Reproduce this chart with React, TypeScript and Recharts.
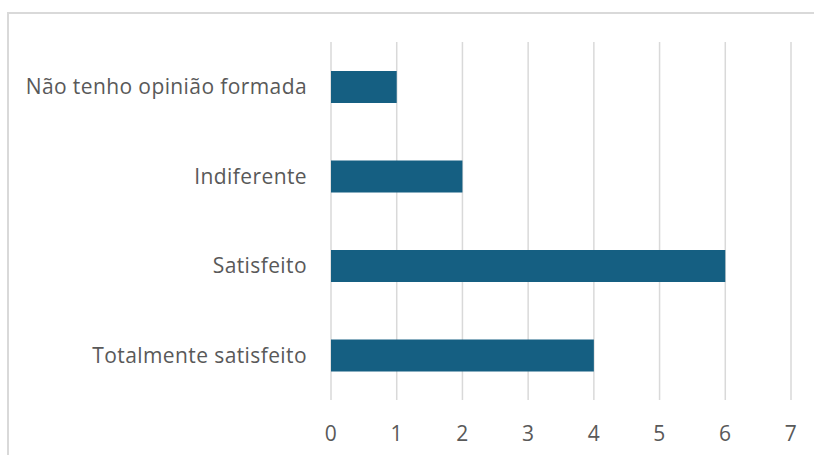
import React from 'react';
import { BarChart, Bar, XAxis, YAxis, CartesianGrid } from 'recharts';

const categories = [
  'Não tenho opinião formada',
  'Indiferente',
  'Satisfeito',
  'Totalmente satisfeito',
];
const values = [1, 2, 6, 4];
const xTicks = [0, 1, 2, 3, 4, 5, 6, 7];

const data = categories.map((name, i) => ({ name, value: values[i] }));

const FONT = '"Open Sans", sans-serif';
const TEXT = '#595959';
const tickStyle = { fill: TEXT, fontSize: 21, fontFamily: FONT, letterSpacing: 0.4 };

export default function App() {
  return (
    <div
      style={{
        position: 'fixed',
        left: 0,
        top: 0,
        width: 814,
        height: 455,
        overflow: 'hidden',
        background: '#fff',
        fontFamily: FONT,
      }}
    >
      <div
        style={{
          position: 'absolute',
          left: 7,
          top: 12,
          width: 900,
          height: 500,
          border: '2px solid #d9d9d9',
        }}
      />
      <div style={{ position: 'absolute', left: 0, top: 0 }}>
        <BarChart
          width={814}
          height={455}
          data={data}
          layout="vertical"
          margin={{ top: 42, right: 23, bottom: 15, left: 0 }}
          barSize={32}
        >
          <CartesianGrid horizontal={false} stroke="#d9d9d9" strokeWidth={1.5} />
          <XAxis
            type="number"
            domain={[0, 7]}
            ticks={xTicks}
            interval={0}
            axisLine={false}
            tickLine={false}
            height={40}
            tickMargin={20}
            tick={tickStyle}
          />
          <YAxis
            type="category"
            dataKey="name"
            width={331}
            axisLine={false}
            tickLine={false}
            tickMargin={18}
            tick={tickStyle}
          />
          <Bar dataKey="value" fill="#155f82" isAnimationActive={false} />
        </BarChart>
      </div>
    </div>
  );
}
